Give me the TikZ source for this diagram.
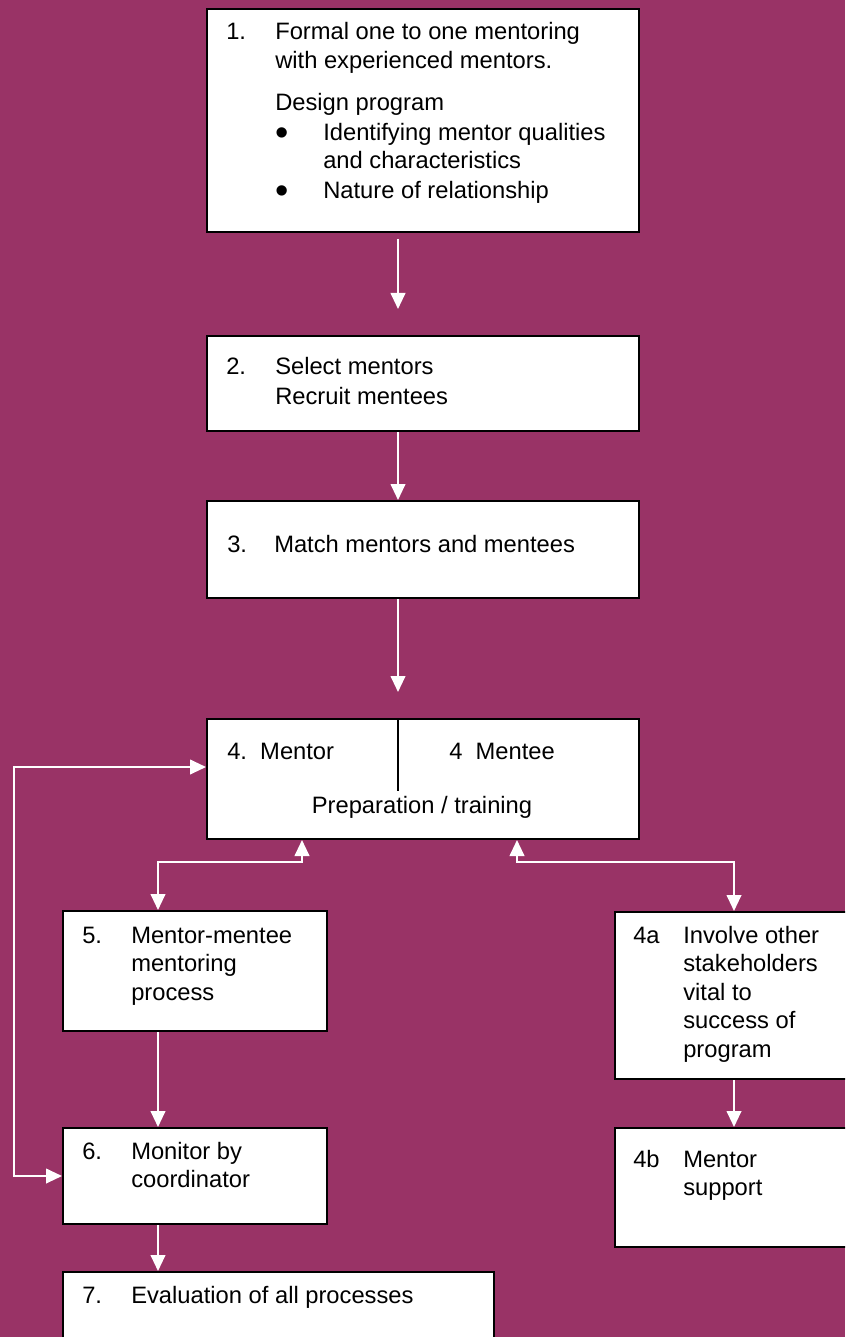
\documentclass[tikz,border=0pt]{standalone}
\usepackage{fontspec}
\setmainfont{Liberation Sans}
\usetikzlibrary{arrows.meta}
\definecolor{plum}{HTML}{993366}
\newdimen\pix \pix=0.75pt
\newcommand{\blt}{\makebox[48\pix][l]{\raisebox{-5\pix}{\scalebox{1.6}{\textbullet}}}}
\tikzstyle{box} = [draw=black, line width=1.5pt, fill=white, anchor=north west, inner sep=0pt]
\tikzstyle{txt} = [anchor=base west, inner sep=0pt, font=\fontsize{17.8pt}{21.4pt}\selectfont]
\tikzstyle{arrow} = [draw=white, line width=1.5pt, -{Triangle[length=12pt,width=11pt]}]
\tikzstyle{dblarrow} = [draw=white, line width=1.5pt, {Triangle[length=12pt,width=11pt]}-{Triangle[length=12pt,width=11pt]}]

\begin{document}
\begin{tikzpicture}[x=0.75pt, y=-0.75pt]
        \useasboundingbox (0,0) rectangle (845,1337);
        \clip (0,0) rectangle (845,1337);
        \fill[plum] (0,0) rectangle (845,1337);
        % \draw[step=50,gray,very thin] (0,0) grid (845,1337);
        \node[box, minimum width=432\pix, minimum height=223\pix] (b1) at (206,8) {};
        \node[box, minimum width=432\pix, minimum height=95\pix] (b2) at (206,335) {};
        \node[box, minimum width=432\pix, minimum height=97\pix] (b3) at (206,500) {};
        \node[box, minimum width=432\pix, minimum height=120\pix] (b4) at (206,718) {};
        \node[box, minimum width=264\pix, minimum height=120\pix] (b5) at (62,910) {};
        \node[box, minimum width=238\pix, minimum height=167\pix] (b4a) at (614,911) {};
        \node[box, minimum width=264\pix, minimum height=96\pix] (b6) at (62,1127) {};
        \node[box, minimum width=238\pix, minimum height=119\pix] (b4b) at (614,1127) {};
        \node[box, minimum width=431\pix, minimum height=100\pix] (b7) at (62,1271) {};

        \coordinate (mid) at (398,791);
        \coordinate (lft) at (302,862);
        \coordinate (rgt) at (517,862);
        \coordinate (x5) at (158,0);
        \coordinate (loop) at (14,767);
        \draw[line width=1.5pt] (b4.north -| mid) -- (mid);

        \node[txt] (t1) at (226,40) {\begin{tabular}[t]{@{}p{49\pix}@{}l@{}}
            1. & Formal one to one mentoring\\
               & with experienced mentors.\\[13\pix]
               & Design program\\[1.5\pix]
               & \blt Identifying mentor qualities\\
               & \hspace{48\pix}and characteristics\\[1.5\pix]
               & \blt Nature of relationship
            \end{tabular}};
        \node[txt] (t2) at (226,374) {\begin{tabular}[t]{@{}p{49\pix}@{}l@{}}
            2. & Select mentors\\[1.5\pix]
               & Recruit mentees
            \end{tabular}};
        \node[txt] (t3) at (227,552) {\begin{tabular}[t]{@{}p{47\pix}@{}l@{}}
            3. & Match mentors and mentees
            \end{tabular}};
        \node[txt] (t4l) at (227,759) {4.\ \ Mentor};
        \node[txt] (t4r) at (449,759) {4\ \ Mentee};
        \node[txt, anchor=base] (t4c) at (422,813) {Preparation / training};
        \node[txt] (t5) at (82,943) {\begin{tabular}[t]{@{}p{49\pix}@{}l@{}}
            5. & Mentor-mentee\\
               & mentoring\\
               & process
            \end{tabular}};
        \node[txt] (t4a) at (633,943) {\begin{tabular}[t]{@{}p{50\pix}@{}l@{}}
            4a & Involve other\\
               & stakeholders\\
               & vital to\\
               & success of\\
               & program
            \end{tabular}};
        \node[txt] (t6) at (82,1159) {\begin{tabular}[t]{@{}p{49\pix}@{}l@{}}
            6. & Monitor by\\
               & coordinator
            \end{tabular}};
        \node[txt] (t4b) at (633,1167) {\begin{tabular}[t]{@{}p{50\pix}@{}l@{}}
            4b & Mentor\\
               & support
            \end{tabular}};
        \node[txt] (t7) at (82,1303) {\begin{tabular}[t]{@{}p{49\pix}@{}l@{}}
            7. & Evaluation of all processes
            \end{tabular}};

        \draw[arrow, shorten <=6\pix, shorten >=26\pix] (b1.south -| mid) -- (b2.north -| mid);
        \draw[arrow] (b2.south -| mid) -- (b3.north -| mid);
        \draw[arrow, shorten >=26\pix] (b3.south -| mid) -- (b4.north -| mid);
        \draw[dblarrow] (b4.south -| lft) -- (lft) -| (b5.north -| x5);
        \draw[dblarrow] (b4.south -| rgt) -- (rgt) -| (b4a.north);
        \draw[dblarrow] (b4.west |- loop) -- (loop) |- (b6.west);
        \draw[arrow] (b5.south -| x5) -- (b6.north -| x5);
        \draw[arrow] (b6.south -| x5) -- (b7.north -| x5);
        \draw[arrow] (b4a) -- (b4b);
    \end{tikzpicture}
\end{document}
